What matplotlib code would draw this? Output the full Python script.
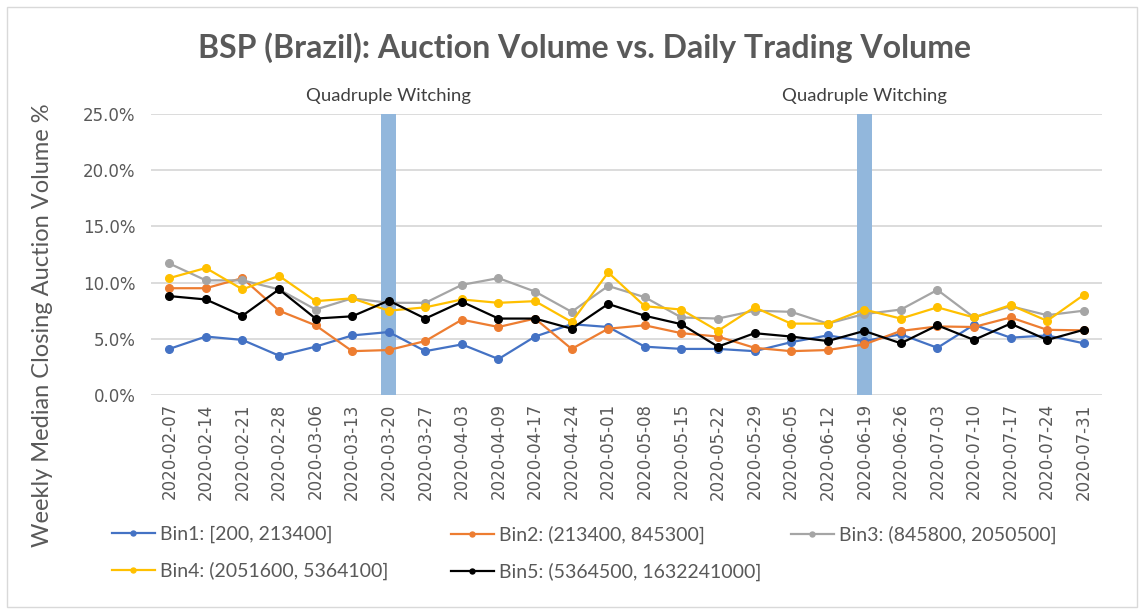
import matplotlib
matplotlib.use("Agg")
import matplotlib.pyplot as plt
from matplotlib.patches import Rectangle
import matplotlib.transforms as mtransforms
from matplotlib.ticker import FuncFormatter

dates = ["2020-02-07", "2020-02-14", "2020-02-21", "2020-02-28", "2020-03-06", "2020-03-13",
         "2020-03-20", "2020-03-27", "2020-04-03", "2020-04-09", "2020-04-17", "2020-04-24",
         "2020-05-01", "2020-05-08", "2020-05-15", "2020-05-22", "2020-05-29", "2020-06-05",
         "2020-06-12", "2020-06-19", "2020-06-26", "2020-07-03", "2020-07-10", "2020-07-17",
         "2020-07-24", "2020-07-31"]

bin1 = [4.1, 5.2, 4.9, 3.5, 4.3, 5.3, 5.6, 3.9, 4.5, 3.2, 5.2, 6.3, 6.05, 4.3, 4.1, 4.1,
        3.9, 4.7, 5.3, 4.8, 5.4, 4.2, 6.25, 5.1, 5.3, 4.6]
bin2 = [9.5, 9.5, 10.4, 7.5, 6.2, 3.9, 4.0, 4.8, 6.7, 6.05, 6.8, 4.1, 5.9, 6.2, 5.5, 5.2,
        4.2, 3.9, 4.0, 4.5, 5.7, 6.1, 6.05, 6.9, 5.8, 5.75]
bin3 = [11.7, 10.2, 10.2, 9.4, 7.6, 8.6, 8.2, 8.2, 9.8, 10.4, 9.2, 7.4, 9.7, 8.7, 6.9, 6.8,
        7.5, 7.4, 6.35, 7.2, 7.6, 9.35, 6.9, 7.9, 7.1, 7.5]
bin4 = [10.4, 11.3, 9.4, 10.6, 8.35, 8.6, 7.5, 7.8, 8.5, 8.2, 8.35, 6.5, 10.9, 7.9, 7.6, 5.7,
        7.8, 6.35, 6.35, 7.6, 6.8, 7.8, 6.9, 8.0, 6.6, 8.9]
bin5 = [8.8, 8.5, 7.05, 9.4, 6.8, 7.0, 8.4, 6.8, 8.3, 6.8, 6.8, 5.9, 8.1, 7.05, 6.3, 4.3,
        5.5, 5.2, 4.8, 5.7, 4.6, 6.2, 4.9, 6.35, 4.9, 5.8]
witching = [0, 0, 0, 0, 0, 0, 25, 0, 0, 0, 0, 0, 0, 0, 0, 0, 0, 0, 0, 25, 0, 0, 0, 0, 0, 0]

labels = ["Bin1: [200, 213400]", "Bin2: (213400, 845300]", "Bin3: (845800, 2050500]",
          "Bin4: (2051600, 5364100]", "Bin5: (5364500, 1632241000]"]
colors = ["#4472C4", "#ED7D31", "#A5A5A5", "#FFC000", "#000000"]
series = [bin1, bin2, bin3, bin4, bin5]

W, H = 1144, 614
fig = plt.figure(figsize=(W / 100, H / 100), dpi=100)
TXT = "#595959"

# chart border
fig.patches.append(Rectangle((7 / W, 7 / H), 1130 / W, 600 / H, transform=fig.transFigure,
                             fill=False, edgecolor="#D9D9D9", linewidth=1.0))

ax = fig.add_axes([151 / W, (H - 395) / H, (1102 - 151) / W, (395 - 114) / H])
x = list(range(len(dates)))

ax.bar(x, witching, width=0.42, color="#92B7DC", zorder=1)
handles = []
for s, c, lab in zip(series, colors, labels):
    h, = ax.plot(x, s, color=c, lw=1.6, marker="o", markersize=5.5, label=lab, zorder=3)
    handles.append(h)

ax.set_xlim(-0.5, len(dates) - 0.5)
ax.set_ylim(0, 25)
ax.set_yticks([0, 5, 10, 15, 20, 25])
ax.yaxis.set_major_formatter(FuncFormatter(lambda v, p: f"{v:.1f}%"))
ax.grid(axis="y", color="#D9D9D9", lw=1.3, zorder=0)
ax.set_axisbelow(True)
for sp in ax.spines.values():
    sp.set_visible(False)
ax.set_xticks(x)
ax.set_xticklabels(dates, rotation=90, fontsize=12, color=TXT, family="DejaVu Sans")
ax.tick_params(axis="both", length=0, pad=6, colors=TXT)
ax.tick_params(axis="y", labelsize=12, pad=11)

trans = mtransforms.blended_transform_factory(ax.transData, fig.transFigure)
for i, v in enumerate(witching):
    if v > 0:
        ax.text(i, (H - 96) / H, "Quadruple Witching", transform=trans, ha="center", va="center",
                fontsize=13.3, color="#404040", family="Lato")

fig.text(584 / W, (H - 48) / H, "BSP (Brazil): Auction Volume vs. Daily Trading Volume",
         ha="center", va="center", fontsize=23, fontweight="bold", color=TXT, family="Lato")
fig.text(43 / W, (H - 325) / H, "Weekly Median Closing Auction Volume %", rotation=90,
         ha="center", va="center", fontsize=17, color=TXT, family="Lato")

cols = [[0, 3], [1, 4], [2]]
xs = [112, 451, 791]
for col, xl in zip(cols, xs):
    fig.legend([handles[i] for i in col], [labels[i] for i in col],
               loc="upper left", bbox_to_anchor=(xl / W, (H - 526) / H), frameon=False,
               prop={"family": "Lato", "size": 14}, labelcolor=TXT, handlelength=2.2,
               handletextpad=0.28, labelspacing=0.95, borderpad=0, borderaxespad=0,
               markerscale=0.65)

fig.savefig("out.png", dpi=100)
